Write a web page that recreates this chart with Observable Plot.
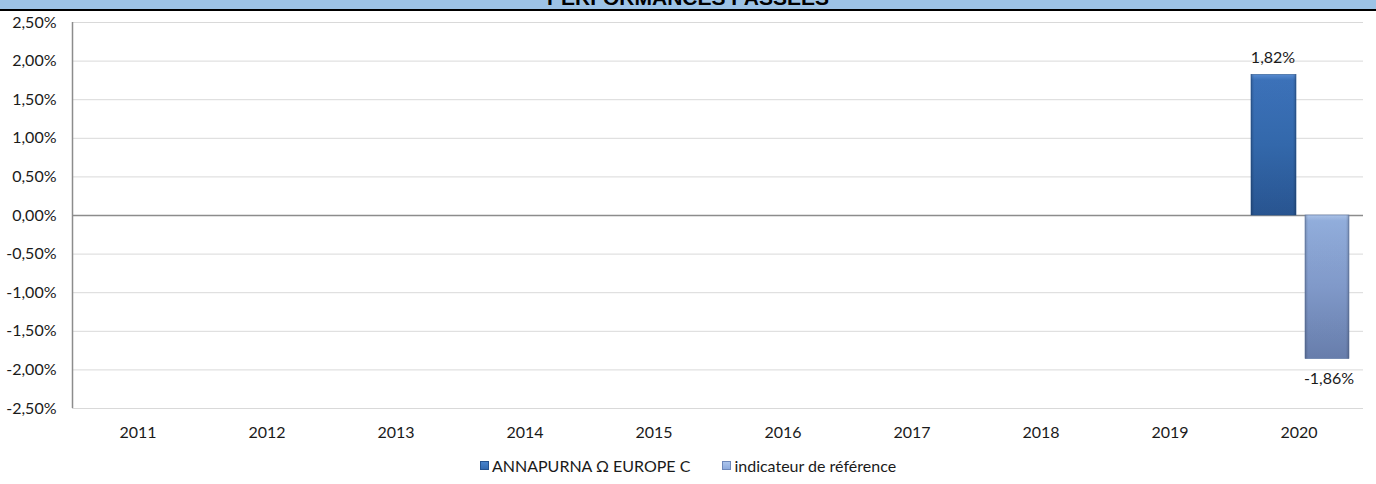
<!DOCTYPE html>
<html>
<head>
<meta charset="utf-8">
<script src="https://cdn.jsdelivr.net/npm/d3@7"></script>
<script src="https://cdn.jsdelivr.net/npm/@observablehq/plot@0.6"></script>
<style>
  html, body { margin: 0; padding: 0; background: #fff; width: 1376px; height: 484px; overflow: hidden; }
  #title { height: 9px; background: #9DC3E6; border-bottom: 2px solid #000; overflow: hidden; position: relative; }
  #title span { position: absolute; left: 0; right: 0; top: -13px; text-align: center; font: bold 21px "Liberation Sans", Arial, sans-serif; line-height: 21px; color: #000; }
  #legend { display: flex; justify-content: center; gap: 32px; font: 16px Lato, "Noto Sans", sans-serif; color: #1a1a1a; margin-top: 5px; }
  #legend .item { display: flex; align-items: center; gap: 3px; }
  #legend .sw { width: 9px; height: 9px; display: inline-block; }
</style>
</head>
<body>
<div id="title"><span>PERFORMANCES PASSEES</span></div>
<div id="chart"></div>
<div id="legend"></div>
<script>
const years = ["2011","2012","2013","2014","2015","2016","2017","2018","2019","2020"];
const fundValues = [null,null,null,null,null,null,null,null,null,1.82];
const refValues  = [null,null,null,null,null,null,null,null,null,-1.86];
const seriesNames = ["ANNAPURNA Ω EUROPE C", "indicateur de référence"];
const yTicks = [-2.5,-2,-1.5,-1,-0.5,0,0.5,1,1.5,2,2.5];

const fmt = v => v.toFixed(2).replace(".", ",") + "%";

const fundRows = years.map((y,i) => ({year:y, value:fundValues[i], series:seriesNames[0]})).filter(d => d.value != null);
const refRows  = years.map((y,i) => ({year:y, value:refValues[i],  series:seriesNames[1]})).filter(d => d.value != null);

const chart = Plot.plot({
  width: 1376,
  height: 440,
  marginLeft: 72,
  marginRight: 13,
  marginTop: 11,
  marginBottom: 43,
  style: { fontFamily: "Lato, 'Noto Sans', sans-serif", fontSize: "16px", color: "#1a1a1a", background: "#fff", overflow: "visible" },
  x: { domain: years, padding: 0, label: null, tickSize: 0, tickPadding: 18 },
  y: { domain: [-2.5, 2.5], ticks: yTicks, tickFormat: fmt, label: null, tickSize: 0, tickPadding: 16 },
  marks: [
    Plot.gridY(yTicks, { stroke: "#d9d9d9", strokeOpacity: 1, strokeWidth: 1 }),
    Plot.ruleY([0], { stroke: "#8c8c8c", strokeWidth: 1.5 }),
    Plot.barY(fundRows, { x: "year", y: "value", fill: "url(#gFund)", stroke: "#24528e", strokeWidth: 0.6, insetLeft: 17, insetRight: 67 }),
    Plot.barY(fundRows, { x: "year", y: "value", fill: "url(#gEdge)", insetLeft: 17, insetRight: 67 }),
    Plot.barY(refRows,  { x: "year", y: "value", fill: "url(#gRef)",  stroke: "#5e77a6", strokeWidth: 0.6, insetLeft: 71, insetRight: 14 }),
    Plot.barY(refRows,  { x: "year", y: "value", fill: "url(#gEdge)", insetLeft: 71, insetRight: 14 }),
    Plot.text(fundRows, { x: "year", y: "value", text: d => fmt(d.value), dx: -26, dy: -17, fontSize: 16 }),
    Plot.text(refRows,  { x: "year", y: "value", text: d => fmt(d.value), dx: 30, dy: 20, fontSize: 16 })
  ]
});

// gradient definitions for the bevelled bars
const svg = d3.select(chart.tagName === "svg" ? chart : chart.querySelector("svg"));
const defs = svg.insert("defs", ":first-child");
function grad(id, stops, horizontal) {
  const g = defs.append("linearGradient").attr("id", id)
    .attr("x1", 0).attr("y1", 0).attr("x2", horizontal ? 1 : 0).attr("y2", horizontal ? 0 : 1);
  stops.forEach(([o, c, a]) => g.append("stop").attr("offset", o).attr("stop-color", c).attr("stop-opacity", a == null ? 1 : a));
}
grad("gFund", [[0, "#5a90d8"], [0.04, "#3e76c0"], [0.5, "#356cb2"], [1, "#2a5896"]], false);
grad("gRef",  [[0, "#b2caef"], [0.04, "#97b4e4"], [0.5, "#859fd1"], [1, "#6b82b2"]], false);
grad("gEdge", [[0, "#000", 0.22], [0.07, "#000", 0.04], [0.93, "#000", 0.04], [1, "#000", 0.22]], true);

// left axis line
const xs = chart.scale("x"), ys = chart.scale("y");
svg.append("line")
  .attr("x1", xs.range[0] + 0.5).attr("x2", xs.range[0] + 0.5)
  .attr("y1", ys.apply(2.5)).attr("y2", ys.apply(-2.5))
  .attr("stroke", "#8c8c8c").attr("stroke-width", 1.5);

document.getElementById("chart").appendChild(chart);

// legend
const legend = d3.select("#legend");
const sw = [["#2f66ae", "#4a86cf"], ["#8aa8dc", "#b0c8ee"]];
seriesNames.forEach((name, i) => {
  const item = legend.append("div").attr("class", "item");
  item.append("span").attr("class", "sw")
    .style("background", `linear-gradient(180deg, ${sw[i][1]} 0%, ${sw[i][0]} 100%)`)
    .style("box-shadow", `inset 0 0 0 1px ${i === 0 ? "#245290" : "#6e88ba"}`);
  item.append("span").text(name);
});
</script>
</body>
</html>
